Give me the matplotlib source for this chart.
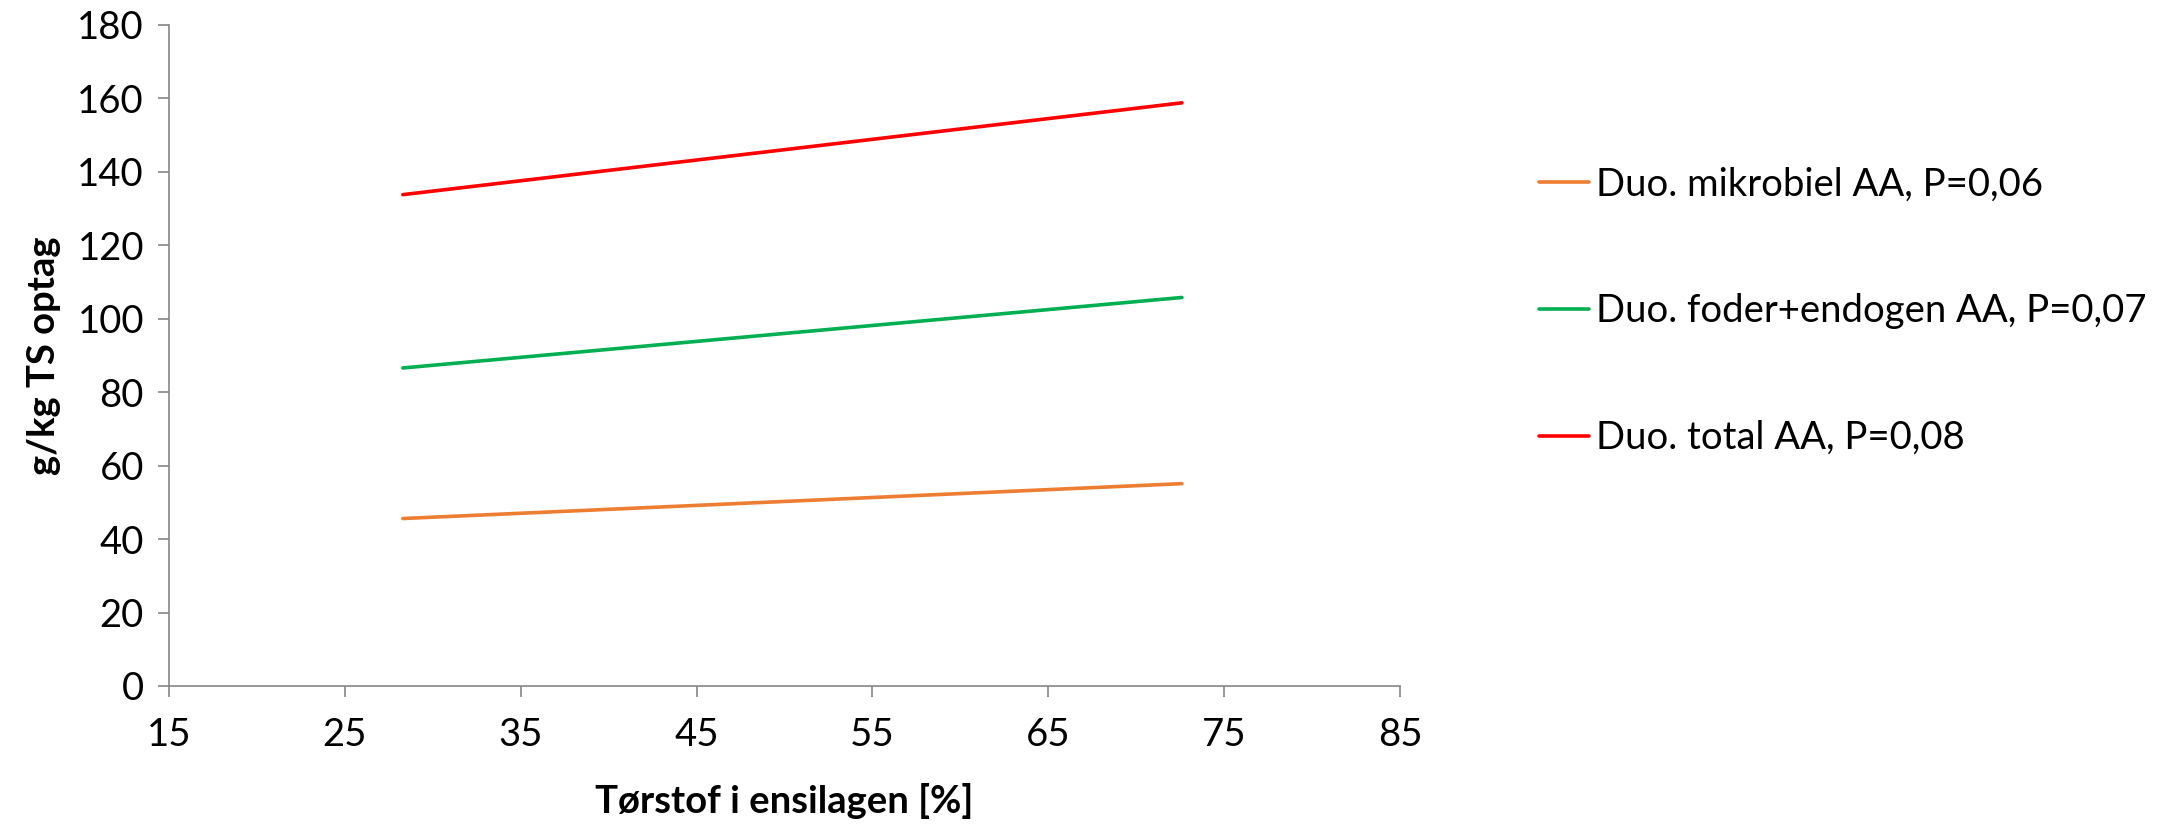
import matplotlib.pyplot as plt

# data
x_ts = [28.3, 72.6]
mikrobiel = [45.6, 55.1]
foder_endogen = [86.6, 105.8]
total = [133.8, 158.8]

labels = ['Duo. mikrobiel AA, P=0,06',
          'Duo. foder+endogen AA, P=0,07',
          'Duo. total AA, P=0,08']
colors = ['#ED7D31', '#00B050', '#FF0000']

xticks = [15, 25, 35, 45, 55, 65, 75, 85]
yticks = [0, 20, 40, 60, 80, 100, 120, 140, 160, 180]

plt.rcParams['font.family'] = ['Lato', 'DejaVu Sans']

fig = plt.figure(figsize=(21.77, 8.25), dpi=100)
ax = fig.add_axes([0.0776, 0.1685, 0.5655, 0.8012])

for y, lab, c in zip([mikrobiel, foder_endogen, total], labels, colors):
    ax.plot(x_ts, y, color=c, lw=2.6, label=lab, solid_capstyle='round')

ax.set_xlim(15, 85)
ax.set_ylim(0, 180)
ax.set_xticks(xticks)
ax.set_yticks(yticks)
ax.tick_params(labelsize=27.5, length=8, width=1.2, color='#868686', pad=14)
ax.tick_params(axis='y', pad=10)
for s in ['top', 'right']:
    ax.spines[s].set_visible(False)
for s in ['left', 'bottom']:
    ax.spines[s].set_color('#868686')
    ax.spines[s].set_linewidth(1.2)

ax.set_xlabel('Tørstof i ensilagen [%]', fontsize=27.5, fontweight='bold', labelpad=22)
ax.set_ylabel('g/kg TS optag', fontsize=27.5, fontweight='bold', labelpad=12)

fig.legend(loc='upper left', bbox_to_anchor=(0.700, 0.817), frameon=False,
           fontsize=27.5, handlelength=1.3, handletextpad=0.2, labelspacing=2.38,
           borderaxespad=0)

fig.savefig('out.png', dpi=100)
